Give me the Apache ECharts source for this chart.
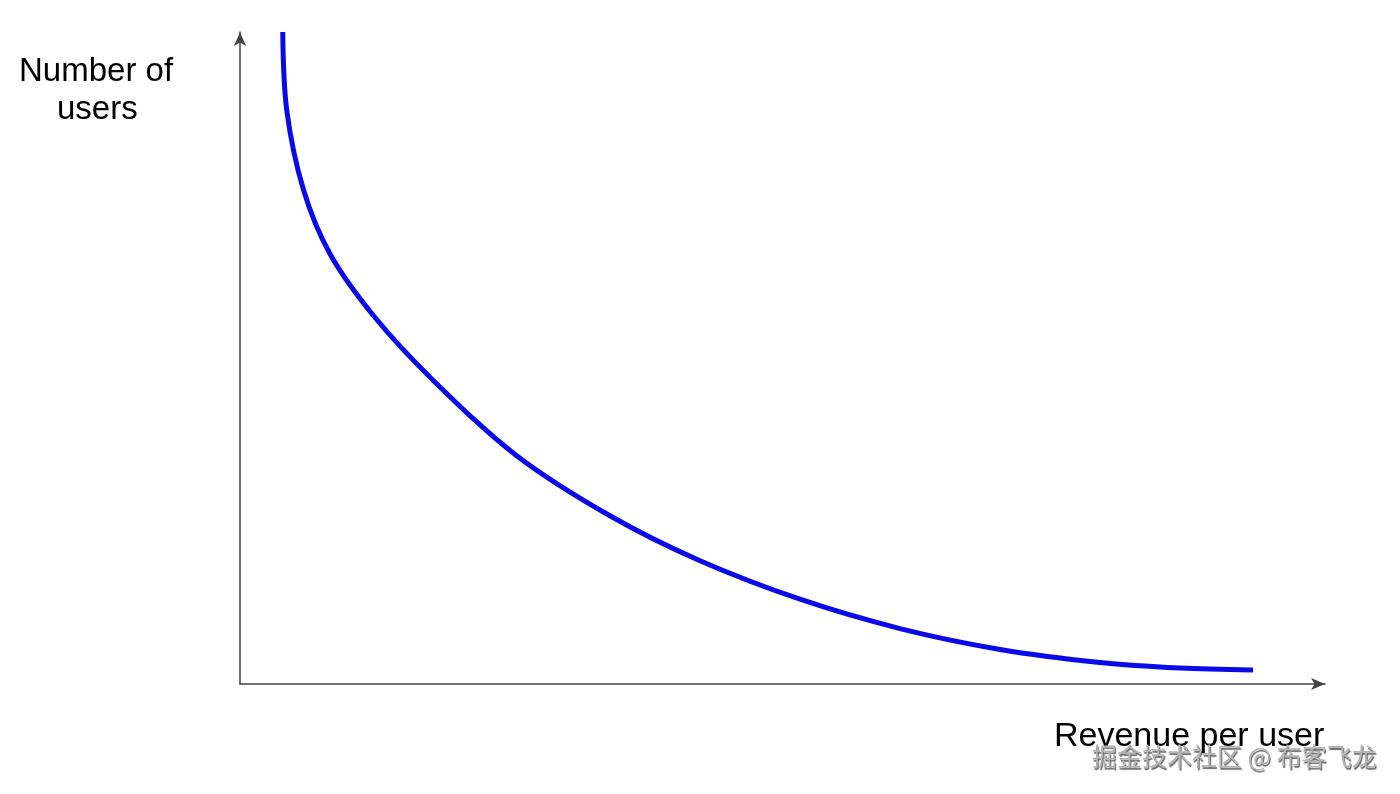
<!DOCTYPE html>
<html>
<head>
<meta charset="utf-8">
<script src="https://cdn.jsdelivr.net/npm/echarts@6/dist/echarts.min.js"></script>
<style>
html,body{margin:0;padding:0;background:#fff;}
#chart{width:1400px;height:794px;}
</style>
</head>
<body>
<div id="chart"></div>
<script>
// Revenue per user (x) values along the curve
var revenuePerUser = [3.94, 4.31, 5.85, 8.30, 12.35, 17.79, 25.44, 34.10, 42.40, 51.61, 60.83, 70.05, 79.26, 86.64, 93.37];
// Number of users (y) values along the curve
var numberOfUsers = [100, 88.0, 75.8, 65.95, 56.4, 46.6, 35.1, 25.8, 18.9, 13.0, 8.5, 5.3, 3.3, 2.45, 2.15];
var yAxisTitle = ['Number of', 'users'];
var xAxisTitle = 'Revenue per user';
var watermark = '掘金技术社区 @ 布客飞龙';

var points = revenuePerUser.map(function (x, i) { return [x, numberOfUsers[i]]; });

var chart = echarts.init(document.getElementById('chart'));
var axisLineStyle = { color: '#444', width: 1.5 };
var labelFont = '33px "Liberation Sans", Arial, sans-serif';
chart.setOption({
  animation: false,
  backgroundColor: '#ffffff',
  grid: { left: 240, right: 75, top: 32, bottom: 110, containLabel: false },
  xAxis: {
    type: 'value', min: 0, max: 100,
    axisLine: { show: true, lineStyle: axisLineStyle, symbol: ['none', 'arrow'], symbolSize: [9, 14] },
    axisTick: { show: false }, axisLabel: { show: false }, splitLine: { show: false }
  },
  yAxis: {
    type: 'value', min: 0, max: 100,
    axisLine: { show: true, lineStyle: axisLineStyle, symbol: ['none', 'arrow'], symbolSize: [9, 14] },
    axisTick: { show: false }, axisLabel: { show: false }, splitLine: { show: false }
  },
  series: [{
    type: 'line',
    data: points,
    showSymbol: false,
    smooth: 0.33,
    lineStyle: { color: '#0a0ae8', width: 5 }
  }],
  graphic: [
    { type: 'text', left: 19, top: 55, style: { text: yAxisTitle[0], font: labelFont, fill: '#000' } },
    { type: 'text', left: 57, top: 93, style: { text: yAxisTitle[1], font: labelFont, fill: '#000' } },
    { type: 'text', left: 1054, top: 720, style: { text: xAxisTitle, font: '34px "Liberation Sans", Arial, sans-serif', fill: '#000' } },
    { type: 'text', left: 1092, top: 744, style: { text: watermark, font: '25px "Noto Sans CJK SC", sans-serif', fill: '#b4b4b4', textShadowColor: 'rgba(0,0,0,0.6)', textShadowOffsetX: 1, textShadowOffsetY: 1.5, textShadowBlur: 1 } }
  ]
});
</script>
</body>
</html>
